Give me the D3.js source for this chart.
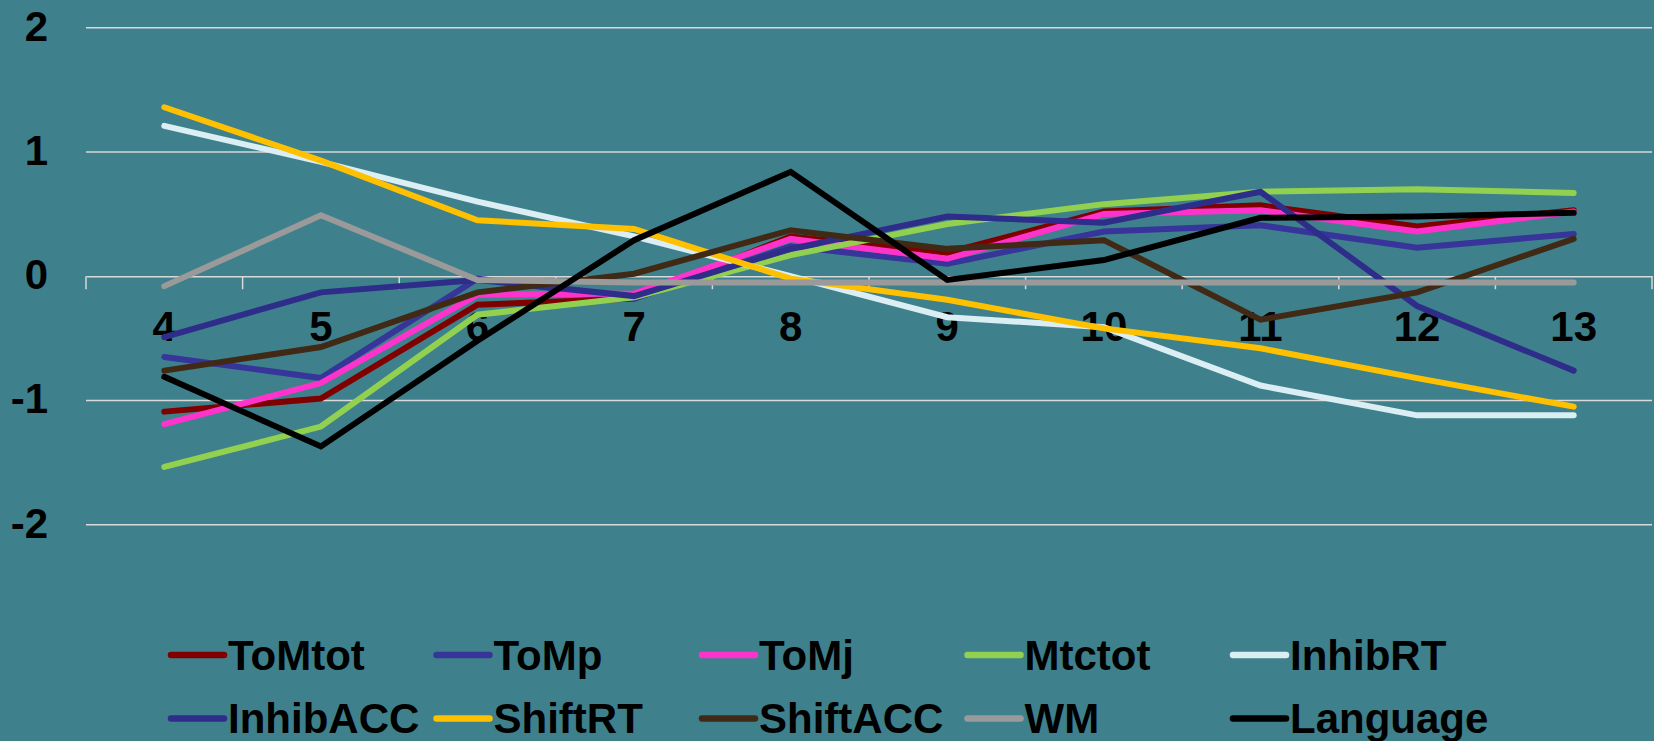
<!DOCTYPE html>
<html>
	<head>
		<meta charset="utf-8">
		<style type="text/css">
			body { margin: 0; background: #3e818c; }
			svg { display: block; }
		</style>
		<title>Ages</title>
	</head>
	<body>
		<script src="https://cdn.jsdelivr.net/npm/d3@7"></script>
		<script>

// DATA
var ages = ["4", "5", "6", "7", "8", "9", "10", "11", "12", "13"];
var yTicks = [2, 1, 0, -1, -2];

var seriesNames = ["ToMtot", "ToMp", "ToMj", "Mtctot", "InhibRT", "InhibACC", "ShiftRT", "ShiftACC", "WM", "Language"];

var ToMtot   = [-1.09, -0.985, -0.23, -0.18, 0.32, 0.19, 0.52, 0.57, 0.40, 0.53];
var ToMp     = [-0.65, -0.82, -0.02, -0.18, 0.24, 0.10, 0.36, 0.41, 0.23, 0.34];
var ToMj     = [-1.19, -0.86, -0.15, -0.14, 0.30, 0.14, 0.50, 0.53, 0.36, 0.52];
var Mtctot   = [-1.535, -1.21, -0.31, -0.17, 0.17, 0.42, 0.58, 0.68, 0.70, 0.67];
var InhibRT  = [1.21, 0.92, 0.60, 0.32, 0.00, -0.33, -0.41, -0.88, -1.12, -1.12];
var InhibACC = [-0.49, -0.13, -0.03, -0.16, 0.22, 0.48, 0.43, 0.68, -0.24, -0.76];
var ShiftRT  = [1.36, 0.93, 0.45, 0.38, -0.02, -0.19, -0.42, -0.58, -0.82, -1.05];
var ShiftACC = [-0.76, -0.57, -0.13, 0.02, 0.37, 0.22, 0.29, -0.35, -0.13, 0.30];
var WM       = [-0.08, 0.49, -0.03, -0.05, -0.05, -0.05, -0.05, -0.05, -0.05, -0.05];
var Language = [-0.81, -1.37, -0.52, 0.29, 0.84, -0.03, 0.13, 0.47, 0.48, 0.51];

var seriesValues = [ToMtot, ToMp, ToMj, Mtctot, InhibRT, InhibACC, ShiftRT, ShiftACC, WM, Language];
var seriesColors = ["#800000", "#373599", "#ff33cc", "#92d050", "#daeef3", "#2e2d8a", "#ffc000", "#402a15", "#9a9a9a", "#000000"];

var width = 1654,
	height = 741,
	margin = {top: 27.7, right: 2, bottom: 216.3, left: 86},
	widthInterior = width - margin.left - margin.right,
	heightInterior = height - margin.top - margin.bottom;

var font = "'Liberation Sans', Arial, sans-serif";

var x = d3.scaleBand().domain(ages).range([0, widthInterior]);
var y = d3.scaleLinear().domain([-2, 2]).range([heightInterior, 0]);

var svg = d3.select("body").append("svg")
	.attr("width", width)
	.attr("height", height);

svg.append("rect")
	.attr("width", width)
	.attr("height", height)
	.attr("fill", "#3e818c");

var g = svg.append("g").attr("transform", "translate(" + margin.left + "," + margin.top + ")");

//GRIDLINES
g.append("g")
	.selectAll("line")
	.data(yTicks.filter(function(d) { return d != 0; }))
	.enter().append("line")
	.attr("x1", 0)
	.attr("x2", widthInterior)
	.attr("y1", function(d) { return y(d); })
	.attr("y2", function(d) { return y(d); })
	.attr("stroke", "#d9d9d9")
	.attr("stroke-width", 1.5);

//Y LABELS
svg.append("g")
	.selectAll("text")
	.data(yTicks)
	.enter().append("text")
	.attr("x", 48)
	.attr("y", function(d) { return margin.top + y(d) + 13; })
	.attr("text-anchor", "end")
	.style("font-family", font)
	.style("font-weight", "bold")
	.style("font-size", "42px")
	.text(function(d) { return d; });

//X AXIS (at zero)
var xAxis = g.append("g")
	.attr("transform", "translate(0," + y(0) + ")")
	.call(d3.axisBottom(x).tickSize(0).tickFormat(""));
xAxis.select(".domain").attr("stroke", "#d9d9d9").attr("stroke-width", 1.5);

var boundaries = ages.map(function(d) { return x(d); }).concat([widthInterior]);
xAxis.selectAll(".sep")
	.data(boundaries)
	.enter().append("line")
	.attr("class", "sep")
	.attr("x1", function(d) { return d; })
	.attr("x2", function(d) { return d; })
	.attr("y1", 0)
	.attr("y2", 13)
	.attr("stroke", "#d9d9d9")
	.attr("stroke-width", 1.5);

g.append("g")
	.selectAll("text")
	.data(ages)
	.enter().append("text")
	.attr("x", function(d) { return x(d) + x.bandwidth() / 2; })
	.attr("y", y(0) + 65)
	.attr("text-anchor", "middle")
	.style("font-family", font)
	.style("font-weight", "bold")
	.style("font-size", "42px")
	.text(function(d) { return d; });

//LINES
var line = d3.line()
	.x(function(d, i) { return x(ages[i]) + x.bandwidth() / 2; })
	.y(function(d) { return y(d); });

g.append("g")
	.selectAll("path")
	.data(seriesValues)
	.enter().append("path")
	.attr("d", function(d) { return line(d); })
	.attr("fill", "none")
	.attr("stroke", function(d, i) { return seriesColors[i]; })
	.attr("stroke-width", 6)
	.attr("stroke-linecap", "round")
	.attr("stroke-linejoin", "miter");

//LEGEND
var legendItem = svg.append("g")
	.selectAll("g")
	.data(seriesNames)
	.enter().append("g")
	.attr("transform", function(d, i) {
		var col = i % 5, row = Math.floor(i / 5);
		return "translate(" + (169 + col * 265.5) + "," + (655 + row * 63.4) + ")";
	});

legendItem.append("line")
	.attr("x1", 2)
	.attr("x2", 55)
	.attr("y1", 0)
	.attr("y2", 0)
	.attr("stroke", function(d, i) { return seriesColors[i]; })
	.attr("stroke-width", 6.5)
	.attr("stroke-linecap", "round");

legendItem.append("text")
	.attr("x", 59)
	.attr("y", 14.5)
	.style("font-family", font)
	.style("font-weight", "bold")
	.style("font-size", "42px")
	.text(function(d) { return d; });

		</script>
	</body>
</html>
